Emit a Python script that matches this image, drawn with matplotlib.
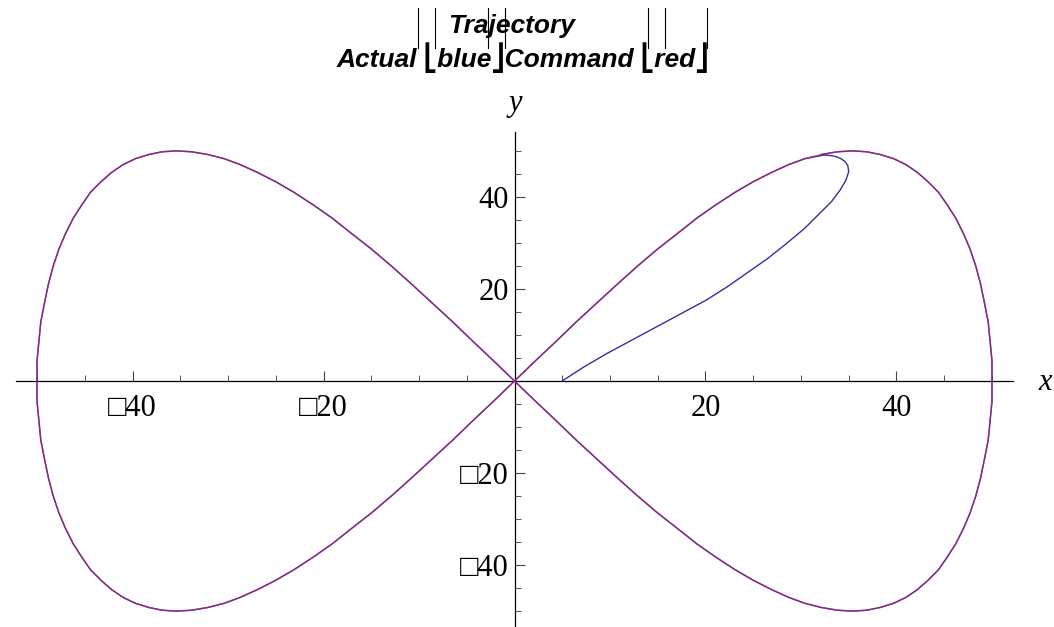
import matplotlib
matplotlib.use("Agg")
import matplotlib.pyplot as plt
from matplotlib.lines import Line2D
from matplotlib.ticker import FixedLocator, MultipleLocator

# ---- data ----
# command path (figure eight): right loop from the origin, then the left loop
loop_r_x = [0.0, 2.2, 4.4, 6.5, 8.7, 10.8, 12.9, 15.0, 17.1, 19.1, 21.1, 23.1, 25.0,
            26.9, 28.7, 30.4, 32.1, 33.8, 35.4, 36.9, 38.3, 39.7, 41.0, 42.2, 43.3,
            44.4, 45.3, 46.2, 47.0, 47.7, 48.3, 48.8, 49.2, 49.6, 49.8, 50.0, 50.0,
            50.0, 49.8, 49.6, 49.2, 48.8, 48.3, 47.7, 47.0, 46.2, 45.3, 44.4, 43.3,
            42.2, 41.0, 39.7, 38.3, 36.9, 35.4, 33.8, 32.1, 30.4, 28.7, 26.9, 25.0,
            23.1, 21.1, 19.1, 17.1, 15.0, 12.9, 10.8, 8.7, 6.5, 4.4, 2.2, 0.0]
loop_r_y = [0.0, 4.4, 8.7, 12.9, 17.1, 21.1, 25.0, 28.7, 32.1, 35.4, 38.3, 41.0, 43.3,
            45.3, 47.0, 48.3, 49.2, 49.8, 50.0, 49.8, 49.2, 48.3, 47.0, 45.3, 43.3,
            41.0, 38.3, 35.4, 32.1, 28.7, 25.0, 21.1, 17.1, 12.9, 8.7, 4.4, 0.0,
            -4.4, -8.7, -12.9, -17.1, -21.1, -25.0, -28.7, -32.1, -35.4, -38.3, -41.0, -43.3,
            -45.3, -47.0, -48.3, -49.2, -49.8, -50.0, -49.8, -49.2, -48.3, -47.0, -45.3,
            -43.3, -41.0, -38.3, -35.4, -32.1, -28.7, -25.0, -21.1, -17.1, -12.9, -8.7,
            -4.4, 0.0]
loop_l_x = [-2.2, -4.4, -6.5, -8.7, -10.8, -12.9, -15.0, -17.1, -19.1, -21.1, -23.1, -25.0,
            -26.9, -28.7, -30.4, -32.1, -33.8, -35.4, -36.9, -38.3, -39.7, -41.0, -42.2, -43.3,
            -44.4, -45.3, -46.2, -47.0, -47.7, -48.3, -48.8, -49.2, -49.6, -49.8, -50.0, -50.0,
            -50.0, -49.8, -49.6, -49.2, -48.8, -48.3, -47.7, -47.0, -46.2, -45.3, -44.4, -43.3,
            -42.2, -41.0, -39.7, -38.3, -36.9, -35.4, -33.8, -32.1, -30.4, -28.7, -26.9, -25.0,
            -23.1, -21.1, -19.1, -17.1, -15.0, -12.9, -10.8, -8.7, -6.5, -4.4, -2.2, 0.0]
loop_l_y = [4.4, 8.7, 12.9, 17.1, 21.1, 25.0, 28.7, 32.1, 35.4, 38.3, 41.0, 43.3,
            45.3, 47.0, 48.3, 49.2, 49.8, 50.0, 49.8, 49.2, 48.3, 47.0, 45.3, 43.3,
            41.0, 38.3, 35.4, 32.1, 28.7, 25.0, 21.1, 17.1, 12.9, 8.7, 4.4, 0.0,
            -4.4, -8.7, -12.9, -17.1, -21.1, -25.0, -28.7, -32.1, -35.4, -38.3, -41.0, -43.3,
            -45.3, -47.0, -48.3, -49.2, -49.8, -50.0, -49.8, -49.2, -48.3, -47.0, -45.3,
            -43.3, -41.0, -38.3, -35.4, -32.1, -28.7, -25.0, -21.1, -17.1, -12.9, -8.7,
            -4.4, 0.0]
cmd_x = loop_r_x + loop_l_x
cmd_y = loop_r_y + loop_l_y

# actual path: start-up transient before it locks onto the command
act_start_x = [5.0, 7.3, 9.7, 12.3, 14.9, 17.5, 20.1, 22.3, 24.3, 26.5, 28.5, 30.4,
               32.0, 33.2, 34.1, 34.7, 35.0, 34.9, 34.6, 34.2, 33.6, 33.0, 32.4]
act_start_y = [0.0, 3.1, 6.0, 8.9, 11.8, 14.7, 17.6, 20.5, 23.4, 26.6, 29.9, 33.2,
               36.5, 39.0, 41.5, 43.6, 45.5, 46.8, 47.7, 48.3, 48.8, 49.0, 49.1]

# once locked on, the actual path runs round the eight the other way
join = 15
act_x = act_start_x + cmd_x[join::-1] + cmd_x[-2:join:-1]
act_y = act_start_y + cmd_y[join::-1] + cmd_y[-2:join:-1]

x_ticks = [-40, -20, 20, 40]
y_ticks = [-40, -20, 20, 40]
x_tick_labels = ["\u25a140", "\u25a120", "20", "40"]
y_tick_labels = ["\u25a140", "\u25a120", "20", "40"]

title_1 = "Trajectory"
title_2 = "Actual \u23a3blue\u23a6Command \u23a3red\u23a6"

# ---- figure ----
W, H = 1054, 627
fig = plt.figure(figsize=(W / 100, H / 100), dpi=100)
ax = fig.add_axes([16 / W, -3 / H, 997 / W, 498 / H])
ax.set_xlim(-52.2, 52.2)
ax.set_ylim(-54.1, 54.1)

ax.plot(act_x, act_y, color="#3030a6", lw=1.0, zorder=3,
        solid_joinstyle="round")
ax.plot(cmd_x, cmd_y, color="#a8286e", lw=1.1, alpha=0.72, zorder=4,
        solid_joinstyle="round")

for side in ("top", "right"):
    ax.spines[side].set_visible(False)
for side in ("left", "bottom"):
    ax.spines[side].set_position(("data", 0))
    ax.spines[side].set_linewidth(0.9)
    ax.spines[side].set_zorder(2)

serif = ["Liberation Serif", "DejaVu Sans"]
ax.xaxis.set_major_locator(FixedLocator(x_ticks))
ax.yaxis.set_major_locator(FixedLocator(y_ticks))
ax.xaxis.set_minor_locator(MultipleLocator(5))
ax.yaxis.set_minor_locator(MultipleLocator(5))
ax.set_xticklabels(x_tick_labels, family=serif, fontsize=22)
ax.set_yticklabels(y_tick_labels, family=serif, fontsize=22)
ax.tick_params(axis="both", which="major", direction="in", length=7, width=0.8, color="#444444")
ax.tick_params(axis="both", which="minor", direction="in", length=4, width=0.7, color="#555555")
ax.tick_params(axis="x", which="major", pad=9)
ax.tick_params(axis="y", which="major", pad=4)

# axis names
fig.text(1045 / W, 1 - 383 / H, "x", family=serif, style="italic", fontsize=22,
         ha="center", va="center")
fig.text(515 / W, 1 - 103 / H, "y", family=serif, style="italic", fontsize=22,
         ha="center", va="center")

# two-line title in bold italic sans, with its tall bracket bars
sans = ["Liberation Sans", "DejaVu Sans"]
fig.text(512 / W, 1 - 26 / H, title_1, family=sans, weight="bold", style="italic",
         fontsize=19, ha="center", va="center")
fig.text(523 / W, 1 - 58 / H, title_2, family=sans, weight="bold", style="italic",
         fontsize=19, ha="center", va="center")
for px in (418, 435, 488, 505, 648, 665, 707):
    fig.add_artist(Line2D([px / W, px / W], [1 - 8 / H, 1 - 48 / H],
                          transform=fig.transFigure, color="black", lw=0.8))

fig.savefig("out.png", dpi=100)
